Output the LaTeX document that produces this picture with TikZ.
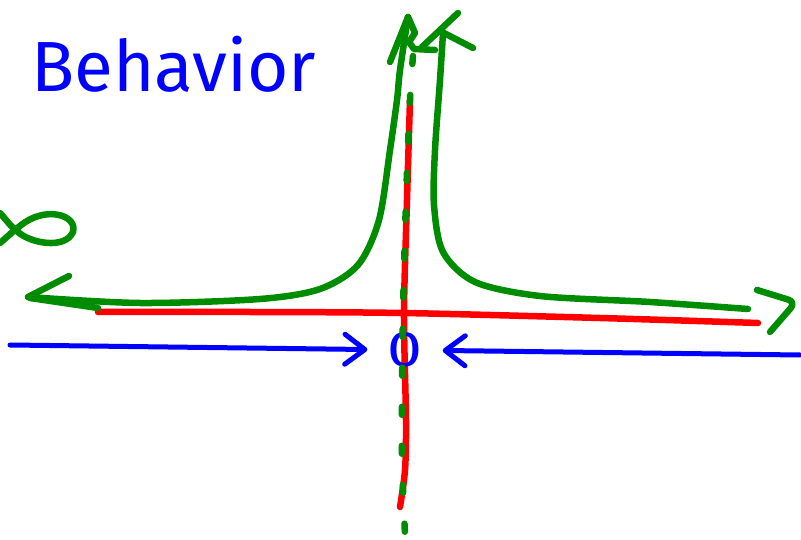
\documentclass[tikz,border=0pt]{standalone}
\usepackage{fontspec}
\setmainfont{Fira Sans}
\usepackage{tikz}
\usetikzlibrary{arrows.meta}
\definecolor{Ink}{HTML}{0000FF}
\definecolor{Curve}{HTML}{008C00}
\definecolor{Axis}{HTML}{FF0000}

\begin{document}
\begin{tikzpicture}[x=1pt,y=-1pt]
  \tikzset{
    gline/.style={draw=Curve, line width=6.5pt, line cap=round, line join=round},
    rline/.style={draw=Axis, line width=6.5pt, line cap=round, line join=round},
    bline/.style={draw=Ink, line width=5pt, line cap=round, line join=round},
    gdash/.style={draw=Curve, line width=6.5pt, line cap=round, dash pattern=on 8pt off 31pt},
    barb/.style={-{Straight Barb[length=20pt,width=30pt,round]}, shorten >=20pt},
    zlabel/.style={text=Ink, inner sep=0pt, font=\fontsize{50}{50}\selectfont}
  }
  \useasboundingbox (0,0) rectangle (801,540);

  \node[anchor=base west, text=Ink, inner sep=0pt,
    font=\fontsize{71}{80}\selectfont] (title) at (31,92) {Behavior};

  \draw[rline] plot[smooth] coordinates {(98,312) (250,312) (403,313) (600,318) (758,323)};
  \draw[rline] plot[smooth] coordinates {(410,100) (407,200) (404,313) (406,420) (405,470) (400,507)};

  \node[zlabel] (zero) at (405,350) {\scalebox{1.25}[1]{0}};
  \coordinate (lfar) at (10,345);
  \coordinate (rfar) at (800,355);
  \draw[bline,barb] (lfar) -- (zero);
  \draw[bline,barb] (rfar) -- (zero);

  \draw[gline] (0,213) .. controls (8,222) and (12,228) .. (18,232)
    .. controls (30,243) and (65,250) .. (73,232)
    .. controls (78,215) and (45,205) .. (20,226)
    .. controls (12,232) and (6,238) .. (0,243);

  \draw[gline] (69,276) -- (28,297);
  \draw[gline] (30,298) -- (98,308);
  \draw[gline] plot[smooth] coordinates {(28,297) (140,303) (260,299) (320,289) (358,265)
    (379,220) (390,150) (397,100) (400,70) (408,17)};
  \draw[gline] (390,62) -- (408,17) -- (415,33) -- (409,42) -- (414,49) -- (435,50);

  \draw[gline] plot[smooth] coordinates {(443,33) (440,80) (435,150) (434,205) (443,252)
    (475,282) (540,296) (650,302) (748,309)};
  \draw[gline] (422,47) -- (458,13);
  \draw[gline] (442,32) -- (473,48);
  \draw[gline, rounded corners=8pt] (757,290) -- (796,302) -- (770,332);

  \draw[gdash] plot[smooth] coordinates {(413,56) (410,100) (406,200) (403,313) (402,400)
    (402,460) (405,535)};
\end{tikzpicture}
\end{document}
